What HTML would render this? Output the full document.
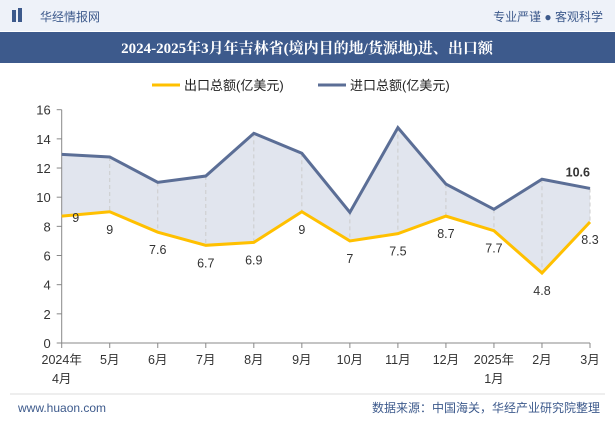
<!DOCTYPE html>
<html><head><meta charset="utf-8"><style>
body{margin:0;width:615px;height:427px;overflow:hidden;background:#fff;font-family:"Liberation Sans","Noto Sans CJK SC",sans-serif;}
</style></head><body>
<svg width="615" height="427" viewBox="0 0 615 427" xmlns="http://www.w3.org/2000/svg" font-family="Liberation Sans, Noto Sans CJK SC, sans-serif">
<rect x="0" y="0" width="615" height="31" fill="#eef2f9"/>
<rect x="12" y="10" width="4" height="12" fill="#3d5a8c"/>
<rect x="18" y="8" width="4" height="14" fill="#3d5a8c"/>
<text x="40" y="21" font-size="12" fill="#3d5a8c">华经情报网</text>
<text x="603" y="21" font-size="12" fill="#3d5a8c" text-anchor="end">专业严谨 ● 客观科学</text>
<rect x="0" y="32" width="615" height="31" fill="#3d5a8c"/>
<text x="307" y="53" font-size="15" font-weight="bold" fill="#fff" text-anchor="middle" font-family="Liberation Serif, Noto Serif CJK SC, serif">2024-2025年3月年吉林省(境内目的地/货源地)进、出口额</text>
<g>
<line x1="152" y1="85" x2="180" y2="85" stroke="#FFC000" stroke-width="3"/>
<text x="184" y="90" font-size="13" fill="#222">出口总额(亿美元)</text>
<line x1="318" y1="85" x2="346" y2="85" stroke="#5B6E96" stroke-width="3"/>
<text x="350" y="90" font-size="13" fill="#222">进口总额(亿美元)</text>
</g>
<g id="plot"></g>
<line x1="10" y1="394" x2="605" y2="394" stroke="#ddd"/>
<text x="18" y="412" font-size="12" fill="#3d5a8c">www.huaon.com</text>
<text x="600" y="412" font-size="12" fill="#3d5a8c" text-anchor="end">数据来源：中国海关，华经产业研究院整理</text>
</svg>
<script>
const categories=["2024年|4月","5月","6月","7月","8月","9月","10月","11月","12月","2025年|1月","2月","3月"];
const exportValues=[8.7,9,7.6,6.7,6.9,9,7,7.5,8.7,7.7,4.8,8.3];
const exportLabels=["9","9","7.6","6.7","6.9","9","7","7.5","8.7","7.7","4.8","8.3"];
const importValues=[12.94,12.76,11.02,11.45,14.38,13.01,8.96,14.77,10.9,9.17,11.23,10.6];
const yTicks=[0,2,4,6,8,10,12,14,16];
const NS="http://www.w3.org/2000/svg";
const g=document.getElementById('plot');
const x0=61.7,x1=590,yb=343,yt=109.7,ymax=16;
const xs=i=>x0+i*(x1-x0)/(categories.length-1);
const ys=v=>yb-v*(yb-yt)/ymax;
function mk(t,a){const e=document.createElementNS(NS,t);for(const k in a)e.setAttribute(k,a[k]);g.appendChild(e);return e;}
let area=importValues.map((v,i)=>xs(i)+','+ys(v)).join(' ')+' '+exportValues.map((v,i)=>xs(i)+','+ys(v)).reverse().join(' ');
const ar=mk('polygon',{points:area,fill:'#e1e5ee'});


categories.forEach((c,i)=>{if(i==0)return;const l=mk('line',{x1:xs(i),x2:xs(i),y1:ys(importValues[i]),y2:ys(exportValues[i]),stroke:'#ccc','stroke-dasharray':'4,3'});

});
const ya=mk('line',{x1:x0,x2:x0,y1:yt,y2:yb,stroke:'#888'});


yTicks.forEach(t=>{mk('line',{x1:x0-5,x2:x0,y1:ys(t),y2:ys(t),stroke:'#888'});
const tx=mk('text',{x:x0-11,y:ys(t)+5,'font-size':13,fill:'#333','text-anchor':'end'});tx.textContent=t;

});
const xa=mk('line',{x1:x0,x2:x1,y1:yb,y2:yb,stroke:'#888'});


categories.forEach((c,i)=>{mk('line',{x1:xs(i),x2:xs(i),y1:yb,y2:yb+5,stroke:'#888'});
c.split('|').forEach((p,j)=>{const tx=mk('text',{x:xs(i),y:yb+21+j*19,'font-size':12.5,fill:'#333','text-anchor':'middle'});tx.textContent=p;

});});
const pe=mk('polyline',{points:exportValues.map((v,i)=>xs(i)+','+ys(v)).join(' '),fill:'none',stroke:'#FFC000','stroke-width':3});


const pi=mk('polyline',{points:importValues.map((v,i)=>xs(i)+','+ys(v)).join(' '),fill:'none',stroke:'#5B6E96','stroke-width':3});


exportValues.forEach((v,i)=>{const first=i==0;const tx=mk('text',{x:xs(i)+(first?14:0),y:ys(v)+(first?6:22),'font-size':12.5,fill:'#333','text-anchor':'middle'});tx.textContent=exportLabels[i];

});
const li=importValues.length-1;
const lt=mk('text',{x:xs(li),y:ys(importValues[li])-12,'font-size':12.5,'font-weight':'bold',fill:'#333','text-anchor':'end'});lt.textContent=importValues[li];


</script>
</body></html>
